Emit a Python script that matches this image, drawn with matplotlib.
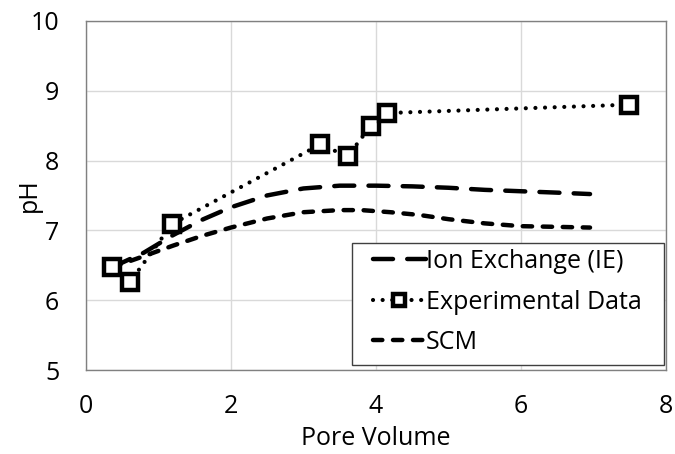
import matplotlib
matplotlib.use("Agg")
import matplotlib.pyplot as plt
from matplotlib.patches import Rectangle

plt.rcParams['font.family'] = ['Open Sans', 'DejaVu Sans']

# experimental pH vs pore volume
exp_pv = [0.36, 0.61, 1.19, 3.23, 3.61, 3.93, 4.15, 7.49]
exp_ph = [6.47, 6.26, 7.09, 8.23, 8.06, 8.50, 8.68, 8.80]

# ion exchange model
ie_pv = [0.36, 0.8, 1.2, 1.6, 2.0, 2.5, 3.0, 3.5, 4.0, 4.5, 5.0, 5.5, 6.0, 6.5, 6.95]
ie_ph = [6.47, 6.68, 6.93, 7.15, 7.33, 7.50, 7.60, 7.64, 7.64, 7.63, 7.61, 7.58, 7.56, 7.54, 7.52]

# surface complexation model
scm_pv = [0.36, 0.8, 1.2, 1.6, 2.0, 2.5, 3.0, 3.5, 3.8, 4.2, 4.6, 5.0, 5.5, 6.0, 6.5, 6.95]
scm_ph = [6.47, 6.63, 6.78, 6.92, 7.04, 7.17, 7.26, 7.29, 7.29, 7.26, 7.22, 7.16, 7.10, 7.06, 7.05, 7.04]

fig = plt.figure(figsize=(6.75, 4.54), dpi=100)
ax = fig.add_axes([0.127, 0.185, 0.86, 0.769])

ax.plot(ie_pv, ie_ph, color='black', lw=3.2, linestyle=(0, (4.5, 3.2)),
        dash_capstyle='round', label='Ion Exchange (IE)', zorder=3)
ax.plot(exp_pv, exp_ph, color='black', lw=3.0, linestyle=(0, (0.01, 2.3)),
        dash_capstyle='round', marker='s', markersize=12, markeredgewidth=3.2,
        markerfacecolor='white', markeredgecolor='black',
        label='Experimental Data', zorder=4)
ax.plot(scm_pv, scm_ph, color='black', lw=3.2, linestyle=(0, (2.1, 2.4)),
        dash_capstyle='round', label='SCM', zorder=3)

ax.set_xlim(0, 8)
ax.set_ylim(5, 10)
ax.set_xticks([0, 2, 4, 6, 8])
ax.set_yticks([5, 6, 7, 8, 9, 10])
ax.grid(True, color='#d9d9d9', lw=1)
ax.set_axisbelow(True)
for s in ax.spines.values():
    s.set_color('#808080')
    s.set_linewidth(1)
ax.tick_params(length=0, labelsize=18)
ax.tick_params(axis='x', pad=17)
ax.tick_params(axis='y', pad=19)

ax.set_xlabel('Pore Volume', fontsize=18, labelpad=5)
ax.set_ylabel('pH', fontsize=18, labelpad=-8)

# legend box drawn separately so the padding is wider than the text rows
ax.add_patch(Rectangle((0.459, 0.014), 0.538, 0.350, transform=ax.transAxes,
                       facecolor='white', edgecolor='#404040', lw=1, zorder=5))
leg = ax.legend(loc='upper left', bbox_to_anchor=(0.495, 0.346), fontsize=18,
                frameon=False, handlelength=2.1, handletextpad=0.0,
                borderpad=0, labelspacing=0.62, markerscale=0.7, borderaxespad=0)
leg.set_zorder(6)

fig.savefig('out.png', dpi=100)
